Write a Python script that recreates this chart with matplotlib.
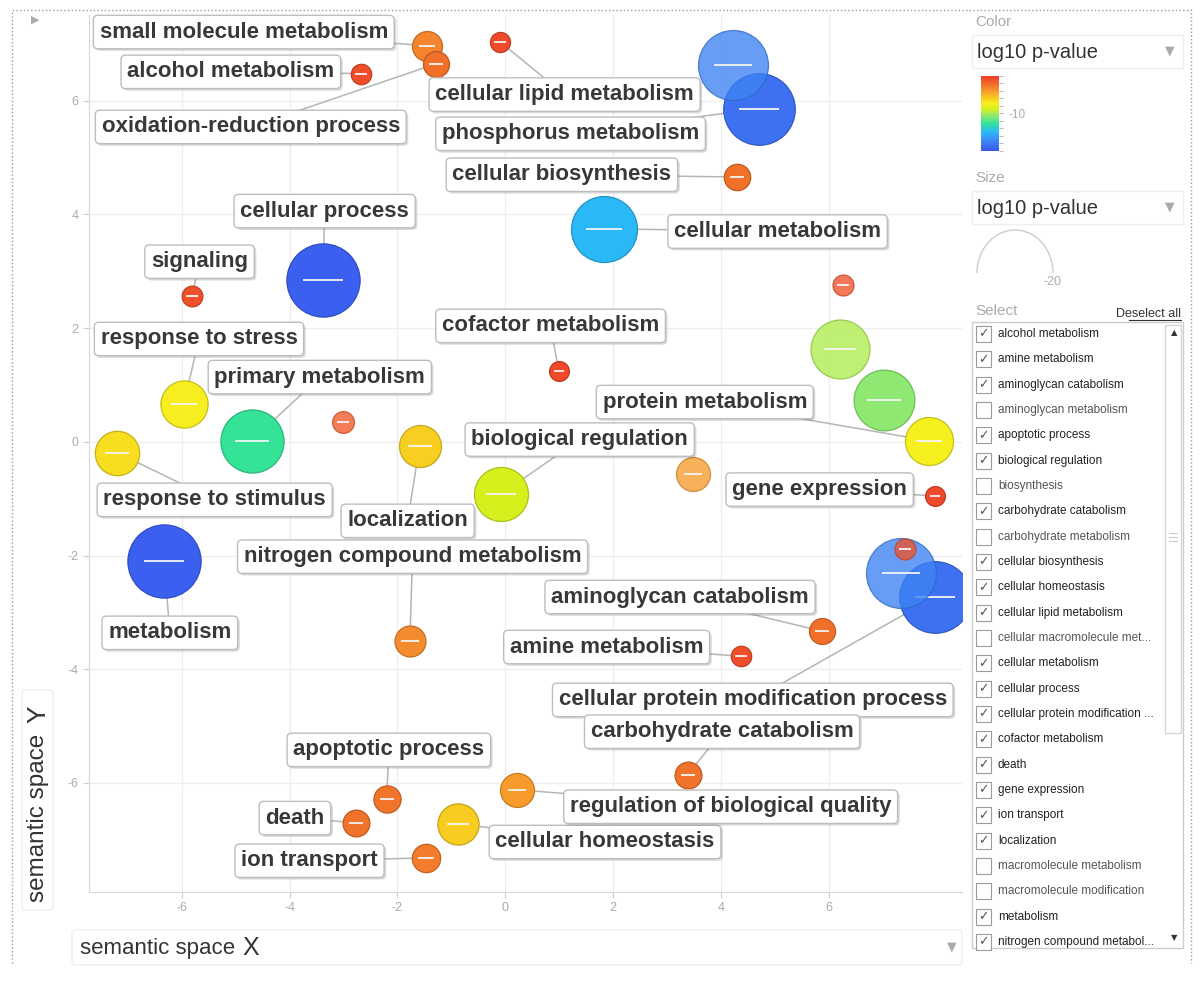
import numpy as np
import matplotlib
matplotlib.use('Agg')
import matplotlib.pyplot as plt
import matplotlib.patheffects as pe
from matplotlib.colors import LinearSegmentedColormap, Normalize, to_rgb
from matplotlib.patches import FancyBboxPatch, Rectangle, Arc
from matplotlib.cm import ScalarMappable
from matplotlib.ticker import MultipleLocator

plt.rcParams['font.family'] = ['Liberation Sans', 'DejaVu Sans']
plt.rcParams['axes.unicode_minus'] = False

# GO terms (empty name = bubble shown without label)
terms = ['small molecule metabolism', 'oxidation-reduction process', 'alcohol metabolism',
         'cellular lipid metabolism', 'phosphorus metabolism', '', 'cellular biosynthesis',
         'cellular metabolism', 'cellular process', 'signaling', '', '', '',
         'protein metabolism', 'cofactor metabolism', 'response to stress', 'primary metabolism', '',
         'localization', 'response to stimulus', 'biological regulation', '', 'gene expression',
         'metabolism', 'cellular protein modification process', '', '',
         'nitrogen compound metabolism', 'aminoglycan catabolism', 'amine metabolism',
         'carbohydrate catabolism', 'regulation of biological quality', 'apoptotic process',
         'death', 'cellular homeostasis', 'ion transport']
sem_x = [-1.46, -1.29, -2.68, -0.10, 4.70, 4.22, 4.29, 1.83, -3.38, -5.81, 6.26, 6.20, 7.02,
         7.85, 0.99, -5.96, -4.70, -3.01, -1.59, -7.20, -0.08, 3.48, 7.97, -6.33, 7.97, 7.34,
         7.41, -1.77, 5.87, 4.37, 3.38, 0.21, -2.20, -2.77, -0.88, -1.47]
sem_y = [6.97, 6.65, 6.48, 7.04, 5.86, 6.63, 4.66, 3.75, 2.85, 2.57, 2.76, 1.64, 0.74,
         0.02, 1.25, 0.67, 0.02, 0.35, -0.07, -0.19, -0.92, -0.56, -0.95, -2.09, -2.73, -2.31,
         -1.88, -3.50, -3.33, -3.77, -5.86, -6.12, -6.28, -6.70, -6.72, -7.32]
log10_p = [-3.2, -2.2, -0.8, -0.7, -18.5, -17.5, -2.3, -15.0, -19.5, -0.9, -1.0, -9.8, -10.6,
           -7.5, -0.6, -7.3, -12.6, -1.2, -6.0, -6.6, -8.8, -4.0, -0.6, -19.5, -18.5, -17.5,
           -1.0, -3.4, -2.2, -0.8, -2.4, -4.0, -2.5, -2.4, -5.8, -2.8]
dispensable = [0, 0, 0, 0, 0, 1, 0, 0, 0, 0, 1, 1, 0, 0, 0, 0, 0, 1, 0, 0, 0, 1, 0, 0, 0, 1,
               1, 0, 0, 0, 0, 0, 0, 0, 0, 0]
label_x = [-4.85, -4.72, -5.09, 1.10, 1.21, None, 1.05, 5.05, -3.35, -5.67, None, None, None,
           3.70, 0.84, -5.68, -3.44, None, -1.81, -5.39, 1.38, None, 5.83, -6.22, 4.59, None,
           None, -1.72, 3.24, 1.88, 4.02, 4.18, -2.16, -3.90, 1.85, -3.63]
label_y = [7.21, 5.54, 6.51, 6.11, 5.42, None, 4.70, 3.70, 4.06, 3.17, None, None, None,
           0.70, 2.04, 1.81, 1.14, None, -1.39, -1.02, 0.04, None, -0.84, -3.36, -4.54, None,
           None, -2.02, -2.73, -3.61, -5.10, -6.42, -5.42, -6.62, -7.04, -7.37]

# side panel list
select_items = ['alcohol metabolism', 'amine metabolism', 'aminoglycan catabolism',
                'aminoglycan metabolism', 'apoptotic process', 'biological regulation',
                'biosynthesis', 'carbohydrate catabolism', 'carbohydrate metabolism',
                'cellular biosynthesis', 'cellular homeostasis', 'cellular lipid metabolism',
                'cellular macromolecule met...', 'cellular metabolism', 'cellular process',
                'cellular protein modification ...', 'cofactor metabolism', 'death',
                'gene expression', 'ion transport', 'localization', 'macromolecule metabolism',
                'macromolecule modification', 'metabolism', 'nitrogen compound metabol...']
select_checked = [1, 1, 1, 0, 1, 1, 0, 1, 0, 1, 1, 1, 0, 1, 1, 1, 1, 1, 1, 1, 1, 0, 0, 1, 1]

# colour scale for log10 p-value
cmap = LinearSegmentedColormap.from_list('revigo', [
    (0.00, '#3a58ee'), (0.12, '#3f80f3'), (0.25, '#2bb8f8'), (0.37, '#35e396'),
    (0.47, '#8ee872'), (0.56, '#d6f01e'), (0.63, '#f7f01f'), (0.72, '#f8c720'),
    (0.82, '#f5902f'), (0.90, '#f06a28'), (1.00, '#f03c2c')])
norm = Normalize(-20, 0)
# size scale: |log10 p| -> bubble radius in px
size_dom = [0, 1, 2.2, 3.2, 4, 6, 7.5, 8.8, 10, 15, 20]
size_rng = [9, 10.5, 13, 15, 17, 21, 24, 27, 30, 33, 37]

W, H = 1200, 997
fig = plt.figure(figsize=(W / 100, H / 100), dpi=100)

# pixel overlay for the widget chrome
ov = fig.add_axes([0, 0, 1, 1], zorder=-1)
ov.set_xlim(0, W)
ov.set_ylim(H, 0)
ov.axis('off')

ax = fig.add_axes([89 / W, 1 - 892 / H, (962 - 89) / W, (892 - 15) / H])
ax.set_xlim(-7.72, 8.47)
ax.set_ylim(-7.92, 7.51)
ax.set_xticks([-6, -4, -2, 0, 2, 4, 6])
ax.set_yticks([-6, -4, -2, 0, 2, 4, 6])
ax.grid(color='#eeeeee', lw=0.9)
ax.set_axisbelow(True)
ax.tick_params(colors='#cccccc', labelcolor='#aaaaaa', labelsize=9, length=4)
for s in ['top', 'right']:
    ax.spines[s].set_visible(False)
for s in ['left', 'bottom']:
    ax.spines[s].set_color('#d8d8d8')

order = np.argsort(np.abs(log10_p))[::-1]
for k, i in enumerate(order):
    x, y, p = sem_x[i], sem_y[i], log10_p[i]
    r = np.interp(abs(p), size_dom, size_rng)
    fc = np.array(to_rgb(cmap(norm(p))))
    alpha = 0.78 if dispensable[i] else 1.0
    ax.scatter(x, y, s=(2 * r * 0.72) ** 2, color=fc, alpha=alpha,
               edgecolors=[tuple(fc * 0.8)], linewidths=0.9, zorder=10 + 2 * k)
    ax.scatter(x, y, s=(1.1 * r * 0.72) ** 2, marker='_', color='#f4f4f4',
               linewidths=1.3, zorder=11 + 2 * k)
    if terms[i]:
        ax.plot([x, label_x[i]], [y, label_y[i]], color='#b5b5b5', lw=1.1, zorder=5)
        t = ax.text(label_x[i], label_y[i], terms[i], ha='center', va='center',
                    fontsize=16, fontweight='bold', color='#383838', zorder=200,
                    bbox=dict(boxstyle='round,pad=0.28,rounding_size=0.2', fc='white',
                              ec='#bdbdbd', lw=1))
        t.get_bbox_patch().set_path_effects([
            pe.SimplePatchShadow(offset=(1.5, -1.5), shadow_rgbFace='black', alpha=0.15),
            pe.Normal()])

# dotted outer frame
ov.plot([12, 12, 1191, 1191], [963, 10, 10, 963], ls=':', color='#999999', lw=1)
ov.text(35, 20, '\u25B6', color='#aaaaaa', fontsize=8, ha='center', va='center',
        family=['DejaVu Sans'])

# axis title boxes
ov.add_patch(FancyBboxPatch((72, 930), 890, 35, boxstyle='round,pad=0,rounding_size=3',
                            fc='white', ec='#eeeeee', lw=1))
ov.text(80, 948, 'semantic space', fontsize=16, color='#333333', va='center')
ov.text(242, 948, 'X', fontsize=18, color='#333333', va='center')
ov.text(952, 947, '\u25BC', fontsize=9, color='#aaaaaa', ha='center', va='center',
        family=['DejaVu Sans'])
ov.add_patch(FancyBboxPatch((22, 690), 31, 220, boxstyle='round,pad=0,rounding_size=3',
                            fc='white', ec='#eeeeee', lw=1))
ov.text(38, 818, 'semantic space', fontsize=17.5, color='#333333', va='center',
        ha='center', rotation=90)
ov.text(38, 714, 'Y', fontsize=19, color='#333333', va='center', ha='center', rotation=90)

# colour / size controls
for ty, title in [(22, 'Color'), (178, 'Size')]:
    ov.text(975, ty, title, fontsize=11, color='#aaaaaa', va='center')
    ov.add_patch(Rectangle((972, ty + 13), 211, 33, fc='white', ec='#eeeeee', lw=1))
    ov.text(977, ty + 30, 'log10 p-value', fontsize=14.5, color='#333333', va='center')
    ov.text(1170, ty + 29, '\u25BC', fontsize=9, color='#aaaaaa', ha='center',
            va='center', family=['DejaVu Sans'])

cax = fig.add_axes([981 / W, 1 - 151 / H, 18 / W, 75 / H])
cb = fig.colorbar(ScalarMappable(norm=norm, cmap=cmap), cax=cax, ticks=[-10])
cb.outline.set_visible(False)
cax.yaxis.set_minor_locator(MultipleLocator(2))
cax.tick_params(which='both', colors='#bbbbbb', labelcolor='#aaaaaa', labelsize=8.5,
                length=3, width=0.8)

ov.add_patch(Arc((1015, 273), 76, 86, theta1=180, theta2=360, color='#cccccc', lw=1))
ov.text(1052, 282, '-20', fontsize=9, color='#aaaaaa', ha='center', va='center')

# select list
ov.text(975, 311, 'Select', fontsize=11, color='#aaaaaa', va='center')
ov.text(1181, 314, 'Deselect all', fontsize=9, color='#333333', va='center', ha='right')
ov.plot([1129, 1181], [320, 320], color='#333333', lw=0.8)
ov.add_patch(Rectangle((972, 322), 211, 626, fc='white', ec='#cccccc', lw=1))
ov.add_patch(Rectangle((1165, 325), 16, 408, fc='white', ec='#d5d5d5', lw=1))
ov.text(1174, 333, '\u25B2', fontsize=6, color='#333333', ha='center', va='center',
        family=['DejaVu Sans'])
ov.text(1174, 938, '\u25BC', fontsize=6, color='#333333', ha='center', va='center',
        family=['DejaVu Sans'])
for gy in [533, 537, 541]:
    ov.plot([1169, 1177], [gy, gy], color='#cccccc', lw=0.8)
for j, (item, chk) in enumerate(zip(select_items, select_checked)):
    yy = 334 + 25.33 * j
    ov.add_patch(Rectangle((976, yy - 8), 15, 16, fc='white', ec='#9a9a9a', lw=0.8))
    if chk:
        ov.text(983, yy, '\u2713', fontsize=9, color='#555555', ha='center', va='center',
                family=['DejaVu Sans'])
    ov.text(998, yy, item, fontsize=8.5, color='#222222' if chk else '#555555',
            va='center')

fig.savefig('out.png', dpi=100, facecolor='white')
